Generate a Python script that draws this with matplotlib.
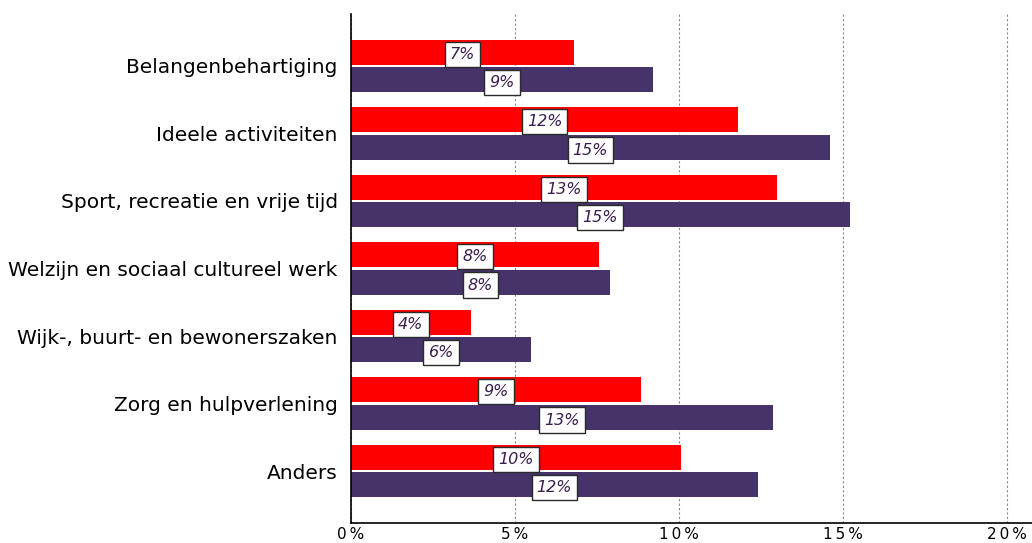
import numpy as np
import matplotlib.pyplot as plt
from matplotlib.ticker import FuncFormatter

categories = ['Belangenbehartiging', 'Ideele activiteiten', 'Sport, recreatie en vrije tijd',
              'Welzijn en sociaal cultureel werk', 'Wijk-, buurt- en bewonerszaken',
              'Zorg en hulpverlening', 'Anders']
red_vals = [6.8, 11.8, 13.0, 7.55, 3.65, 8.85, 10.05]
purple_vals = [9.2, 14.6, 15.2, 7.9, 5.5, 12.85, 12.4]
red_labels = ['7%', '12%', '13%', '8%', '4%', '9%', '10%']
purple_labels = ['9%', '15%', '15%', '8%', '6%', '13%', '12%']

RED = '#ff0000'
PURPLE = '#45336a'

fig = plt.figure(figsize=(10.32, 5.43), dpi=100)
ax = fig.add_axes([351 / 1032, (543 - 523) / 543, (1032 - 351) / 1032, (523 - 14) / 543])

y = np.arange(len(categories))
h = 0.37
off = 0.205
ax.barh(y - off, red_vals, height=h, color=RED, zorder=2)
ax.barh(y + off, purple_vals, height=h, color=PURPLE, zorder=2)

# value labels in white boxes, centred on each bar
box = dict(boxstyle='square,pad=0.32', facecolor='white', edgecolor='#2a2a2a', linewidth=1.0)
for i in range(len(categories)):
    ax.text(red_vals[i] / 2, y[i] - off + 0.03, red_labels[i], ha='center', va='center',
            fontsize=11.5, style='italic', color='#3b1d4e', bbox=box, zorder=3)
    ax.text(purple_vals[i] / 2, y[i] + off + 0.04, purple_labels[i], ha='center', va='center',
            fontsize=11.5, style='italic', color='#3b1d4e', bbox=box, zorder=3)

ax.set_xlim(0, 20.76)
ax.set_ylim(6.77, -0.77)
ax.set_yticks(y)
ax.set_yticklabels(categories, fontsize=14.5)
ax.set_xticks([0, 5, 10, 15, 20])
# spaced-out tick text like the original
ax.xaxis.set_major_formatter(FuncFormatter(lambda v, p: '\u2009'.join('%d%%' % v)))
ax.tick_params(axis='x', labelsize=11, length=0, pad=3)
ax.tick_params(axis='y', length=0, pad=9.5)
ax.grid(axis='x', color='#888888', linestyle=(0, (2, 2)), linewidth=0.8, zorder=0)
for s in ['top', 'right']:
    ax.spines[s].set_visible(False)
ax.spines['left'].set_linewidth(1.2)
ax.spines['bottom'].set_linewidth(1.2)

fig.savefig('out.png', dpi=100)
